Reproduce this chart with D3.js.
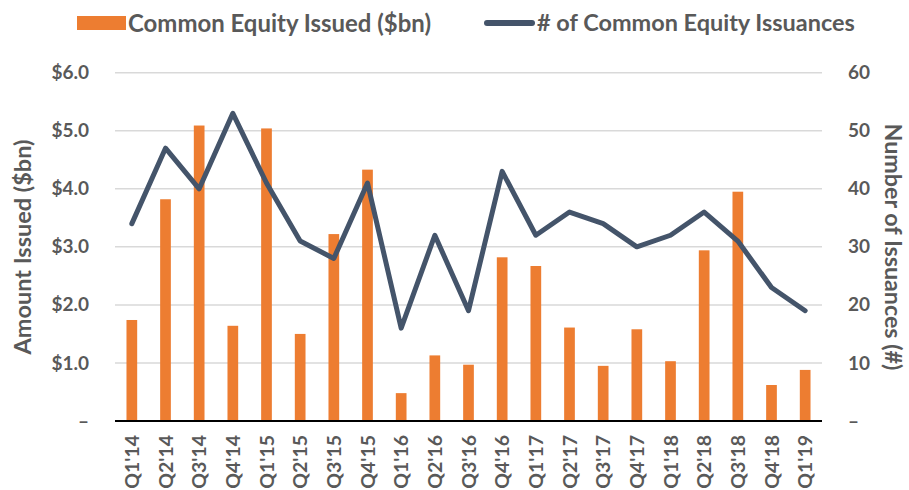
<!DOCTYPE html>
<html><head><meta charset="utf-8">
<script src="https://cdn.jsdelivr.net/npm/d3@7"></script>
<style>body{margin:0;background:#fff}svg{display:block}text{font-family:Lato,"Open Sans",sans-serif;font-weight:bold;fill:#595959}</style>
</head><body><svg id="c" width="909" height="490"></svg>
<script>
const categories = ["Q1'14","Q2'14","Q3'14","Q4'14","Q1'15","Q2'15","Q3'15","Q4'15","Q1'16","Q2'16","Q3'16","Q4'16","Q1'17","Q2'17","Q3'17","Q4'17","Q1'18","Q2'18","Q3'18","Q4'18","Q1'19"];
const equityIssued = [1.74,3.82,5.09,1.64,5.04,1.50,3.22,4.33,0.48,1.13,0.97,2.82,2.67,1.61,0.95,1.58,1.03,2.94,3.95,0.62,0.88];
const issuanceCount = [34,47,40,53,41,31,28,41,16,32,19,43,32,36,34,30,32,36,31,23,19];
const leftTicks = [0,1,2,3,4,5,6];
const rightTicks = [0,10,20,30,40,50,60];
const seriesNames = ["Common Equity Issued ($bn)","# of Common Equity Issuances"];
const axisTitles = ["Amount Issued ($bn)","Number of Issuances (#)"];

const svg = d3.select("#c");
const L=115, R=822, T=72.7, B=421;
const x = d3.scaleBand().domain(categories).range([L,R]);
const yL = d3.scaleLinear().domain([0,6]).range([B,T]);
const yR = d3.scaleLinear().domain([0,60]).range([B,T]);
const orange="#ED7D31", navy="#44546A";

function fitText(sel, target){
  const w = sel.node().getComputedTextLength();
  const fs = parseFloat(sel.style("font-size"));
  sel.style("font-size", (fs*target/w).toFixed(2)+"px");
}

// gridlines
svg.append("g").selectAll("line").data(leftTicks.filter(d=>d>0)).join("line")
  .attr("x1",L).attr("x2",R).attr("y1",d=>yL(d)).attr("y2",d=>yL(d))
  .attr("stroke","#d9d9d9").attr("stroke-width",1.5);

// bars
const bw=10.7;
svg.append("g").selectAll("rect").data(equityIssued).join("rect")
  .attr("x",(d,i)=>x(categories[i])+x.bandwidth()/2-bw/2).attr("width",bw)
  .attr("y",d=>yL(d)).attr("height",d=>B-yL(d)).attr("fill",orange);

// axis line
svg.append("line").attr("x1",L).attr("x2",R).attr("y1",B).attr("y2",B).attr("stroke","#000").attr("stroke-width",2);

// line
const line=d3.line().x((d,i)=>x(categories[i])+x.bandwidth()/2).y(d=>yR(d));
svg.append("path").datum(issuanceCount).attr("d",line).attr("fill","none")
  .attr("stroke",navy).attr("stroke-width",5).attr("stroke-linejoin","round").attr("stroke-linecap","round");

// left axis
const fmtL=d=>d===0?"–":"$"+d.toFixed(1);
const gl=svg.append("g").attr("transform",`translate(${L},0)`)
  .call(d3.axisLeft(yL).tickValues(leftTicks).tickFormat(fmtL).tickSize(0).tickPadding(26));
gl.select(".domain").remove();
gl.selectAll("text").style("font-size","19px").attr("fill","#595959");

// right axis
const fmtR=d=>d===0?"–":String(d);
const gr=svg.append("g").attr("transform",`translate(${R},0)`)
  .call(d3.axisRight(yR).tickValues(rightTicks).tickFormat(fmtR).tickSize(0).tickPadding(26));
gr.select(".domain").remove();
gr.selectAll("text").style("font-size","19px").attr("fill","#595959");

// x axis labels
const gx=svg.append("g").attr("transform",`translate(0,${B})`)
  .call(d3.axisBottom(x).tickSize(0).tickPadding(0));
gx.select(".domain").remove();
gx.selectAll("text").style("font-size","19.5px").attr("fill","#595959")
  .attr("transform","rotate(-90)").attr("text-anchor","end").attr("dy","0.36em").attr("x",-14).attr("y",0);

// axis titles
const t1=svg.append("text").attr("transform","translate(31,247) rotate(-90)").attr("text-anchor","middle")
  .style("font-size","20px").text(axisTitles[0]);
fitText(t1,215);
const t2=svg.append("text").attr("transform","translate(885,247) rotate(90)").attr("text-anchor","middle")
  .style("font-size","20px").text(axisTitles[1]);
fitText(t2,247);

// legend
svg.append("rect").attr("x",77).attr("y",16).attr("width",49).attr("height",14).attr("fill",orange);
const l1=svg.append("text").attr("x",128).attr("y",23).attr("dy","0.36em").style("font-size","20px").text(seriesNames[0]);
fitText(l1,303);
svg.append("line").attr("x1",487).attr("x2",532).attr("y1",23).attr("y2",23).attr("stroke",navy).attr("stroke-width",6).attr("stroke-linecap","round");
const l2=svg.append("text").attr("x",537).attr("y",23).attr("dy","0.36em").style("font-size","20px").text(seriesNames[1]);
fitText(l2,318);
</script></body></html>
